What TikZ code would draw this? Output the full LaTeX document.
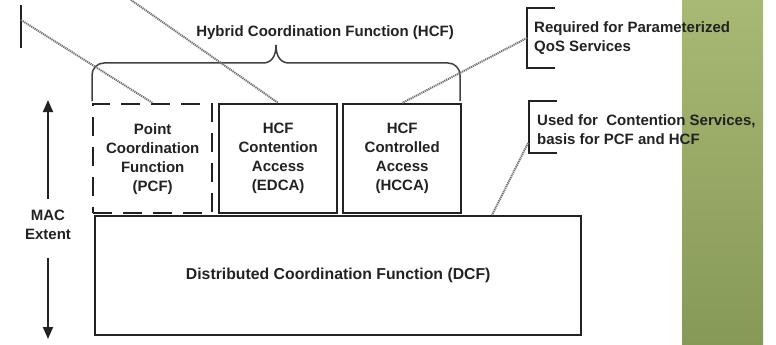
\documentclass[tikz,border=0pt]{standalone}
\usepackage{fontspec}
\setmainfont{Liberation Sans}
\usetikzlibrary{arrows.meta}
\definecolor{greentop}{HTML}{A7B973}
\definecolor{greenbot}{HTML}{879957}
\definecolor{ink}{HTML}{222222}
\begin{document}
\begin{tikzpicture}[x=1pt,y=-1pt,
  lbl/.style={font=\bfseries\fontsize{15}{19}\selectfont, text=ink, inner sep=0pt},
  box/.style={lbl, draw=ink, line width=2.4pt, align=center, anchor=north west},
  dbox/.style={box, dash pattern=on 19pt off 11pt},
  conn/.style={draw=black!55, line width=2pt, dash pattern=on 1.2pt off 0.8pt},
  brk/.style={draw=ink, line width=2.2pt},
  brace/.style={draw=black!75, line width=1.5pt},
  extarrow/.style={draw=ink, line width=1.8pt, -{Triangle[length=12pt,width=10pt]}}]
\useasboundingbox (0,0) rectangle (776,345);
% green band
\shade[top color=greentop, bottom color=greenbot] (682,0) rectangle (763,345);

% boxes
\node[dbox, minimum width=119pt, minimum height=109pt] (pcf) at (92,103) {Point\\Coordination\\Function\\(PCF)};
\node[box, minimum width=118pt, minimum height=109pt] (edca) at (218,103) {HCF\\Contention\\Access\\(EDCA)};
\node[box, minimum width=118pt, minimum height=109pt] (hcca) at (342,103) {HCF\\Controlled\\Access\\(HCCA)};
\node[box, minimum width=486pt, minimum height=119pt, font=\bfseries\fontsize{15.8}{19}\selectfont] (dcf) at (94,215) {Distributed Coordination Function (DCF)};

% HCF brace and label
\node[lbl] (hcf) at (325,33) {Hybrid Coordination Function (HCF)};
\draw[brace, rounded corners=12pt] (92,101) -- (92,63) -- (263,63);
\draw[brace] (263,63) .. controls (271,63) and (276,57) .. (276,45)
             .. controls (276,57) and (281,63) .. (289,63);
\draw[brace, rounded corners=12pt] (289,63) -- (460,63) -- (460,101);

% MAC extent
\node[lbl, align=center] (mac) at (48,225) {MAC\\Extent};
\coordinate (macup) at (48,100);
\coordinate (macdown) at (48,339);
\draw[extarrow] (48,199) -- (macup);
\draw[extarrow] (48,258) -- (macdown);

% top-left bracket fragment
\coordinate (tlb) at (21,20);
\draw[brk] (21,5) -- (21,48);

% right labels
\node[lbl, anchor=west, align=left] (req) at (534,38) {Required for Parameterized\\QoS Services};
\draw[brk] (555,8) -- (527,8) -- (527,68) -- (555,68);
\coordinate (b1) at (527,38);

\node[lbl, anchor=west, align=left] (used) at (537,130) {Used for~ Contention Services,\\basis for PCF and HCF};
\draw[brk] (557,101) -- (529,101) -- (529,153) -- (557,153);
\coordinate (b2) at (528,143);
\coordinate (dcfpt) at (492,215);

% connectors
\coordinate (topstart) at (131,0);
\draw[conn] (tlb) -- (pcf.north);
\draw[conn] (topstart) -- (edca.north);
\draw[conn] (b1) -- (hcca.north);
\draw[conn] (b2) -- (dcfpt);
\end{tikzpicture}
\end{document}
